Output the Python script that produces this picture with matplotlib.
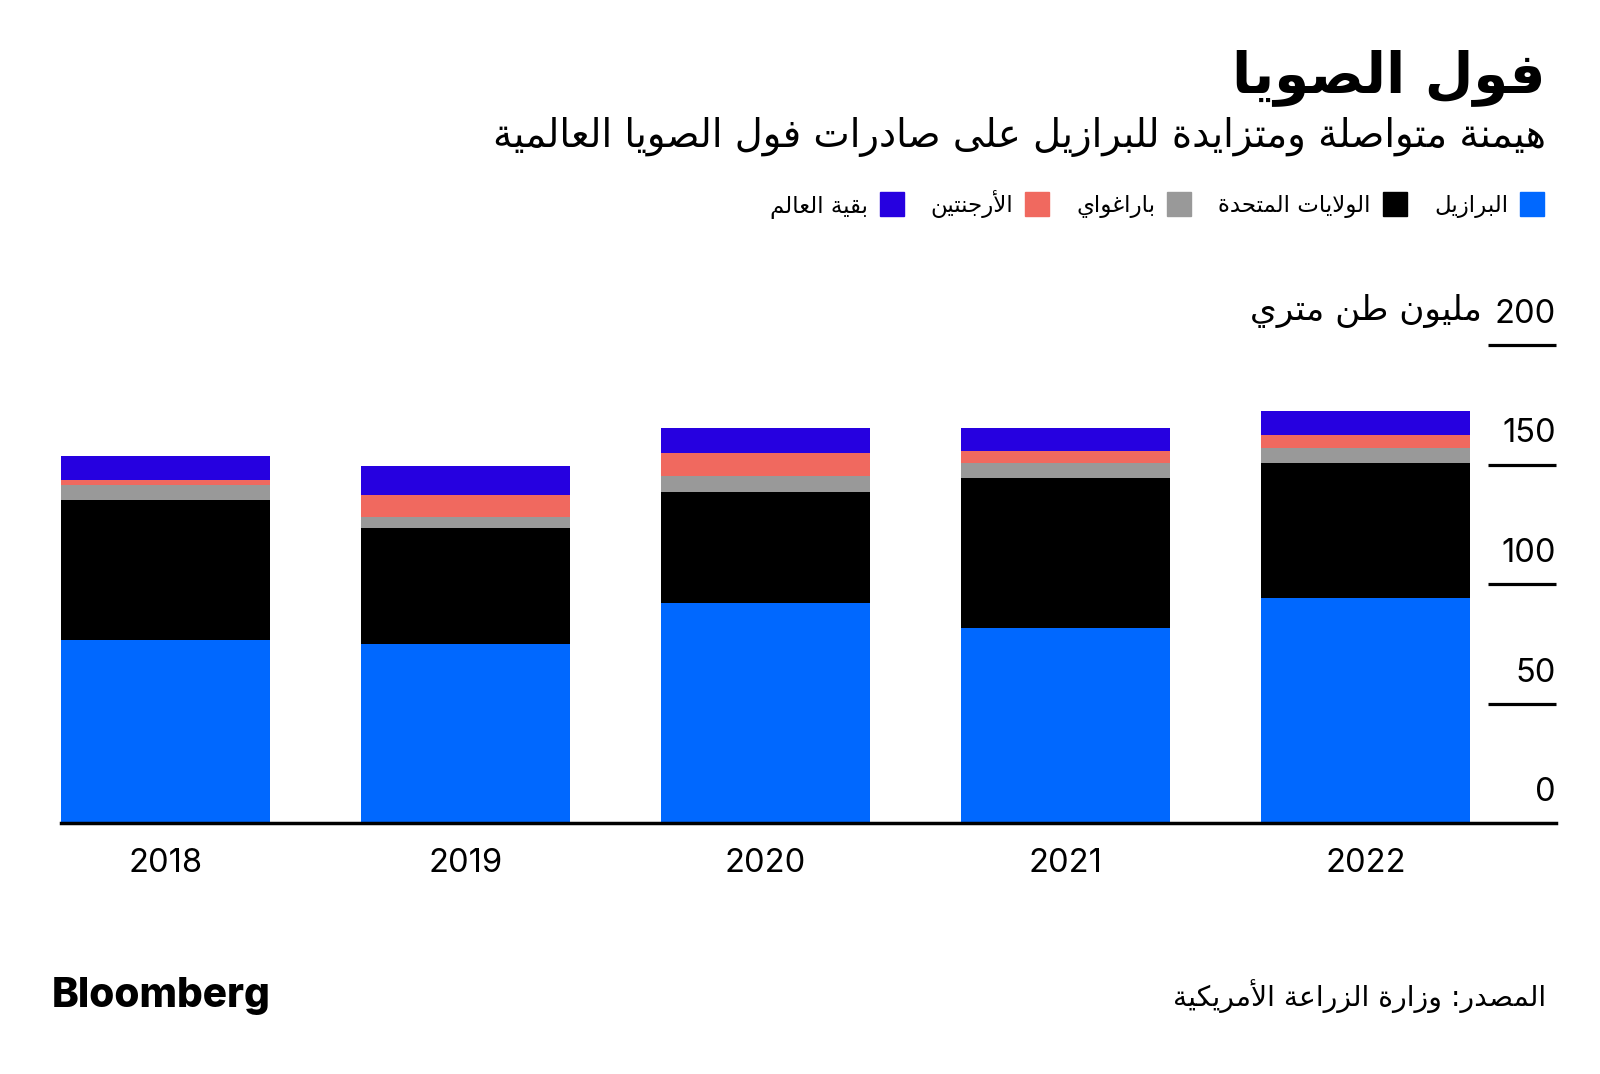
import matplotlib
matplotlib.use("Agg")
import matplotlib.pyplot as plt
import numpy as np

# data (million metric tons)
years = ["2018", "2019", "2020", "2021", "2022"]
brazil = [76.7, 75.0, 92.2, 81.6, 94.1]
usa = [58.3, 48.4, 46.2, 62.8, 56.7]
paraguay = [6.5, 4.6, 6.9, 6.4, 6.0]
argentina = [2.1, 9.1, 9.7, 5.0, 5.6]
rest = [10.1, 12.4, 10.2, 9.4, 10.1]

series_names = ["البرازيل", "الولايات المتحدة", "باراغواي", "الأرجنتين", "بقية العالم"]
colors = ["#0068FF", "#000000", "#999999", "#F0695F", "#2600E0"]
yticks = [0, 50, 100, 150, 200]

title = "فول الصويا"
subtitle = "هيمنة متواصلة ومتزايدة للبرازيل على صادرات فول الصويا العالمية"
unit = "مليون طن متري"
source = "المصدر: وزارة الزراعة الأمريكية"

# --- tiny arabic shaper (matplotlib does no shaping / bidi) ---
# letter -> (isolated presentation form, dual joining?)
FORMS = {
    "\u0622": (0xFE81, False), "\u0623": (0xFE83, False), "\u0624": (0xFE85, False),
    "\u0625": (0xFE87, False), "\u0626": (0xFE89, True), "\u0627": (0xFE8D, False),
    "\u0628": (0xFE8F, True), "\u0629": (0xFE93, False), "\u062A": (0xFE95, True),
    "\u062B": (0xFE99, True), "\u062C": (0xFE9D, True), "\u062D": (0xFEA1, True),
    "\u062E": (0xFEA5, True), "\u062F": (0xFEA9, False), "\u0630": (0xFEAB, False),
    "\u0631": (0xFEAD, False), "\u0632": (0xFEAF, False), "\u0633": (0xFEB1, True),
    "\u0634": (0xFEB5, True), "\u0635": (0xFEB9, True), "\u0636": (0xFEBD, True),
    "\u0637": (0xFEC1, True), "\u0638": (0xFEC5, True), "\u0639": (0xFEC9, True),
    "\u063A": (0xFECD, True), "\u0641": (0xFED1, True), "\u0642": (0xFED5, True),
    "\u0643": (0xFED9, True), "\u0644": (0xFEDD, True), "\u0645": (0xFEE1, True),
    "\u0646": (0xFEE5, True), "\u0647": (0xFEE9, True), "\u0648": (0xFEED, False),
    "\u0649": (0xFEEF, False), "\u064A": (0xFEF1, True),
}
LAM_ALEF = {"\u0622": 0xFEF5, "\u0623": 0xFEF7, "\u0625": 0xFEF9, "\u0627": 0xFEFB}


def ar(text):
    units = []
    i = 0
    while i < len(text):
        c = text[i]
        if c == "\u0644" and i + 1 < len(text) and text[i + 1] in LAM_ALEF:
            units.append((LAM_ALEF[text[i + 1]], False))
            i += 2
            continue
        units.append(FORMS.get(c, c))
        i += 1
    out = []
    for k, u in enumerate(units):
        if isinstance(u, str):
            out.append(u)
            continue
        base, dual = u
        prev = units[k - 1] if k > 0 else None
        nxt = units[k + 1] if k + 1 < len(units) else None
        join_prev = isinstance(prev, tuple) and prev[1]
        join_next = dual and isinstance(nxt, tuple)
        if join_prev and join_next:
            off = 3
        elif join_prev:
            off = 1
        elif join_next:
            off = 2
        else:
            off = 0
        out.append(chr(base + off))
    return "".join(out)[::-1]


W, H = 1600, 1074
fig = plt.figure(figsize=(W / 100, H / 100), dpi=100)
fig.patch.set_facecolor("white")

ax = fig.add_axes([61 / W, 1 - 823 / H, (1556 - 61) / W, (823 - 345) / H])
x = np.arange(len(years))
bottom = np.zeros(len(years))
for vals, c in zip([brazil, usa, paraguay, argentina, rest], colors):
    ax.bar(x, vals, width=0.697, bottom=bottom, color=c, linewidth=0, zorder=2)
    bottom += np.array(vals)
ax.set_xlim(-0.3483, 4.635)
ax.set_ylim(0, 200)
ax.axis("off")

ax.axhline(0, color="black", lw=2.5, clip_on=False, zorder=3)
ax.hlines(yticks[1:], 4.408, 4.635, color="black", lw=2.3, clip_on=False)

num_font = ["Inter", "DejaVu Sans"]
for t in yticks:
    ax.annotate(str(t), xy=(1, t), xycoords=("axes fraction", "data"),
                xytext=(0, 22), textcoords="offset pixels",
                ha="right", va="baseline", fontsize=23.5, family=num_font)
for xi, yr in zip(x, years):
    ax.annotate(yr, xy=(xi, 0), xycoords="data", xytext=(0, -49),
                textcoords="offset pixels", ha="center", va="baseline",
                fontsize=23.5, family=num_font)

renderer = fig.canvas.get_renderer()


def fit(t, width):
    w = t.get_window_extent(renderer).width
    t.set_fontsize(t.get_fontsize() * width / w)


ar_font = ["DejaVu Sans"]
t = fig.text(1482 / W, 1 - 320 / H, ar(unit), ha="right", va="baseline",
             fontsize=22, family=ar_font)
fit(t, 1482 - 1250)

t = fig.text(1546 / W, 1 - 92 / H, ar(title), ha="right", va="baseline",
             fontsize=40, fontweight="bold", family=ar_font)
fit(t, 1546 - 1233)
t = fig.text(1546 / W, 1 - 147 / H, ar(subtitle), ha="right", va="baseline",
             fontsize=24, family=ar_font)
fit(t, 1546 - 487)
t = fig.text(1546 / W, 1 - 1006 / H, ar(source), ha="right", va="baseline",
             fontsize=20, family=ar_font)
fit(t, 1546 - 1173)
t = fig.text(52 / W, 1 - 1007 / H, "Bloomberg", ha="left", va="baseline",
             fontsize=28, fontweight="heavy", family=["Inter", "DejaVu Sans"])
fit(t, 271 - 52)

# legend, laid out right to left
xr = 1544
for name, c in zip(series_names, colors):
    fig.patches.append(plt.Rectangle(((xr - 24) / W, 1 - 216 / H), 24 / W, 24 / H,
                                     transform=fig.transFigure, color=c))
    lt = fig.text((xr - 24 - 12) / W, 1 - 212 / H, ar(name), ha="right",
                  va="baseline", fontsize=16.5, family=ar_font)
    w = lt.get_window_extent(renderer).width
    xr = xr - 24 - 12 - w - 27

fig.savefig("out.png", dpi=100)
